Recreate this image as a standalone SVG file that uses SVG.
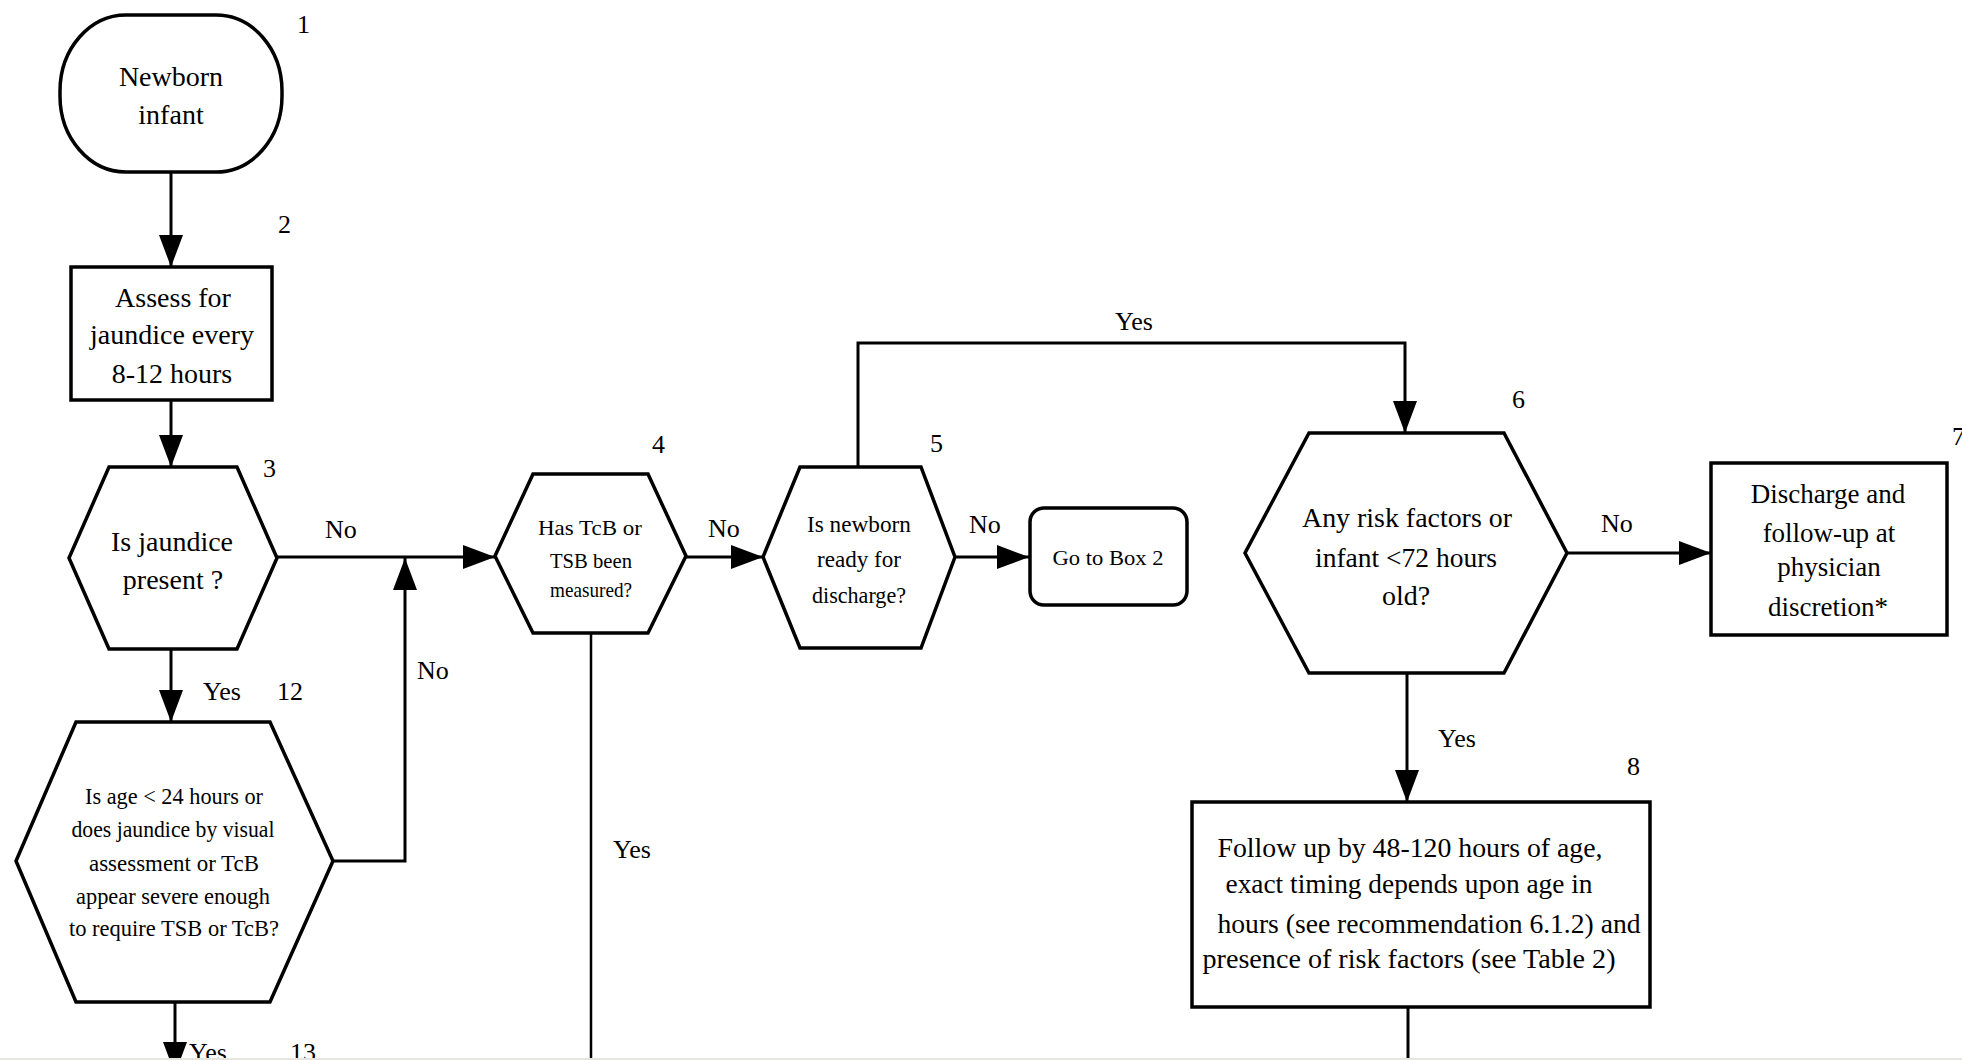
<svg xmlns="http://www.w3.org/2000/svg" width="1962" height="1060" viewBox="0 0 1962 1060">
<defs>
<style>
.shape{fill:#fff;stroke:#000;stroke-width:3.5;stroke-linejoin:miter}
.conn{fill:none;stroke:#000;stroke-width:3}
.t{font-family:"Liberation Serif","Times New Roman",serif;fill:#000;text-anchor:middle}
.lbl{font-family:"Liberation Serif","Times New Roman",serif;fill:#000;font-size:26px}
</style>
<marker id="ah" markerUnits="userSpaceOnUse" markerWidth="32" markerHeight="24" refX="32" refY="12" orient="auto">
<path d="M0,0 L32,12 L0,24 z" fill="#000"/>
</marker>
</defs>
<rect x="0" y="0" width="1962" height="1060" fill="#fff"/>

<g id="connectors">
<line class="conn" x1="171" y1="172" x2="171" y2="267" marker-end="url(#ah)"/>
<line class="conn" x1="171" y1="400" x2="171" y2="467" marker-end="url(#ah)"/>
<line class="conn" x1="277" y1="557" x2="495" y2="557" marker-end="url(#ah)"/>
<polyline class="conn" points="333,861 405,861 405,558" marker-end="url(#ah)"/>
<line class="conn" x1="171" y1="649" x2="171" y2="722" marker-end="url(#ah)"/>
<line class="conn" x1="175" y1="1002" x2="175" y2="1074" marker-end="url(#ah)"/>
<line class="conn" x1="591" y1="633" x2="591" y2="1060" style="stroke-width:2.5"/>
<line class="conn" x1="686" y1="557" x2="763" y2="557" marker-end="url(#ah)"/>
<line class="conn" x1="955" y1="557" x2="1029" y2="557" marker-end="url(#ah)"/>
<polyline class="conn" points="858,467 858,343 1405,343 1405,433" marker-end="url(#ah)"/>
<line class="conn" x1="1567" y1="553" x2="1711" y2="553" marker-end="url(#ah)"/>
<line class="conn" x1="1407" y1="673" x2="1407" y2="802" marker-end="url(#ah)"/>
<line class="conn" x1="1408" y1="1007" x2="1408" y2="1060"/>
<text class="lbl" x="325" y="538">No</text>
<text class="lbl" x="417" y="679">No</text>
<text class="lbl" x="203" y="700">Yes</text>
<text class="lbl" x="189" y="1061">Yes</text>
<text class="lbl" x="613" y="858">Yes</text>
<text class="lbl" x="708" y="537">No</text>
<text class="lbl" x="969" y="533">No</text>
<text class="lbl" x="1115" y="330">Yes</text>
<text class="lbl" x="1601" y="532">No</text>
<text class="lbl" x="1438" y="747">Yes</text>
</g>

<g id="node1">
<rect class="shape" x="60" y="15" width="222" height="157" rx="66" ry="76"/>
<text class="t" font-size="28" x="171" y="86">Newborn</text>
<text class="t" font-size="28" x="171" y="124">infant</text>
<text class="lbl" x="297" y="33">1</text>
</g>

<g id="node2">
<rect class="shape" x="71" y="267" width="201" height="133"/>
<text class="t" font-size="28" x="173" y="307">Assess for</text>
<text class="t" font-size="28" x="172" y="344">jaundice every</text>
<text class="t" font-size="28" x="172" y="383">8-12 hours</text>
<text class="lbl" x="278" y="233">2</text>
</g>

<g id="node3">
<polygon class="shape" points="109,467 237,467 277,558 237,649 109,649 69,558"/>
<text class="t" font-size="28" x="172" y="551">Is jaundice</text>
<text class="t" font-size="28" x="173" y="589">present ?</text>
<text class="lbl" x="263" y="477">3</text>
</g>

<g id="node12">
<polygon class="shape" points="76,722 270,722 333,861 270,1002 76,1002 16,861"/>
<text class="t" font-size="23" x="174" y="804" textLength="178" lengthAdjust="spacingAndGlyphs">Is age &lt; 24 hours or</text>
<text class="t" font-size="23" x="173" y="837" textLength="203" lengthAdjust="spacingAndGlyphs">does jaundice by visual</text>
<text class="t" font-size="23" x="174" y="871" textLength="170" lengthAdjust="spacingAndGlyphs">assessment or TcB</text>
<text class="t" font-size="23" x="173" y="904" textLength="194" lengthAdjust="spacingAndGlyphs">appear severe enough</text>
<text class="t" font-size="23" x="174" y="936" textLength="210" lengthAdjust="spacingAndGlyphs">to require TSB or TcB?</text>
<text class="lbl" x="277" y="700">12</text>
</g>

<g id="node13">
<text class="lbl" x="290" y="1061">13</text>
</g>

<g id="node4">
<polygon class="shape" points="533,474 648,474 686,556 648,633 533,633 495,556"/>
<text class="t" font-size="21" x="590" y="535" textLength="104" lengthAdjust="spacingAndGlyphs">Has TcB or</text>
<text class="t" font-size="21" x="591" y="568" textLength="82" lengthAdjust="spacingAndGlyphs">TSB been</text>
<text class="t" font-size="21" x="591" y="597" textLength="82" lengthAdjust="spacingAndGlyphs">measured?</text>
<text class="lbl" x="652" y="453">4</text>
</g>

<g id="node5">
<polygon class="shape" points="800,467 921,467 955,557 921,648 800,648 763,557"/>
<text class="t" font-size="24" x="859" y="532" textLength="104" lengthAdjust="spacingAndGlyphs">Is newborn</text>
<text class="t" font-size="24" x="859" y="567" textLength="84" lengthAdjust="spacingAndGlyphs">ready for</text>
<text class="t" font-size="24" x="859" y="603" textLength="94" lengthAdjust="spacingAndGlyphs">discharge?</text>
<text class="lbl" x="930" y="452">5</text>
</g>

<g id="goto2">
<rect class="shape" x="1030" y="508" width="157" height="97" rx="14" ry="14"/>
<text class="t" font-size="22" x="1108" y="565" textLength="111" lengthAdjust="spacingAndGlyphs">Go to Box 2</text>
</g>

<g id="node6">
<polygon class="shape" points="1309,433 1504,433 1567,553 1504,673 1309,673 1245,553"/>
<text class="t" font-size="28" x="1407" y="527" textLength="210" lengthAdjust="spacingAndGlyphs">Any risk factors or</text>
<text class="t" font-size="28" x="1406" y="567" textLength="182" lengthAdjust="spacingAndGlyphs">infant &lt;72 hours</text>
<text class="t" font-size="28" x="1406" y="605">old?</text>
<text class="lbl" x="1512" y="408">6</text>
</g>

<g id="node7">
<rect class="shape" x="1711" y="463" width="236" height="172"/>
<text class="t" font-size="27" x="1828" y="503">Discharge and</text>
<text class="t" font-size="27" x="1829" y="542">follow-up at</text>
<text class="t" font-size="27" x="1829" y="576">physician</text>
<text class="t" font-size="27" x="1828" y="616">discretion*</text>
<text class="lbl" x="1952" y="445">7</text>
</g>

<g id="node8">
<rect class="shape" x="1192" y="802" width="458" height="205"/>
<text class="t" font-size="27" x="1410" y="857" textLength="385" lengthAdjust="spacingAndGlyphs">Follow up by 48-120 hours of age,</text>
<text class="t" font-size="27" x="1409" y="893" textLength="367" lengthAdjust="spacingAndGlyphs">exact timing depends upon age in</text>
<text class="t" font-size="27" x="1429" y="933" textLength="423" lengthAdjust="spacingAndGlyphs">hours (see recommendation 6.1.2) and</text>
<text class="t" font-size="27" x="1409" y="968" textLength="413" lengthAdjust="spacingAndGlyphs">presence of risk factors (see Table 2)</text>
<text class="lbl" x="1627" y="775">8</text>
</g>

<rect x="0" y="1058" width="1962" height="2" fill="#e6e4dc"/>
</svg>
